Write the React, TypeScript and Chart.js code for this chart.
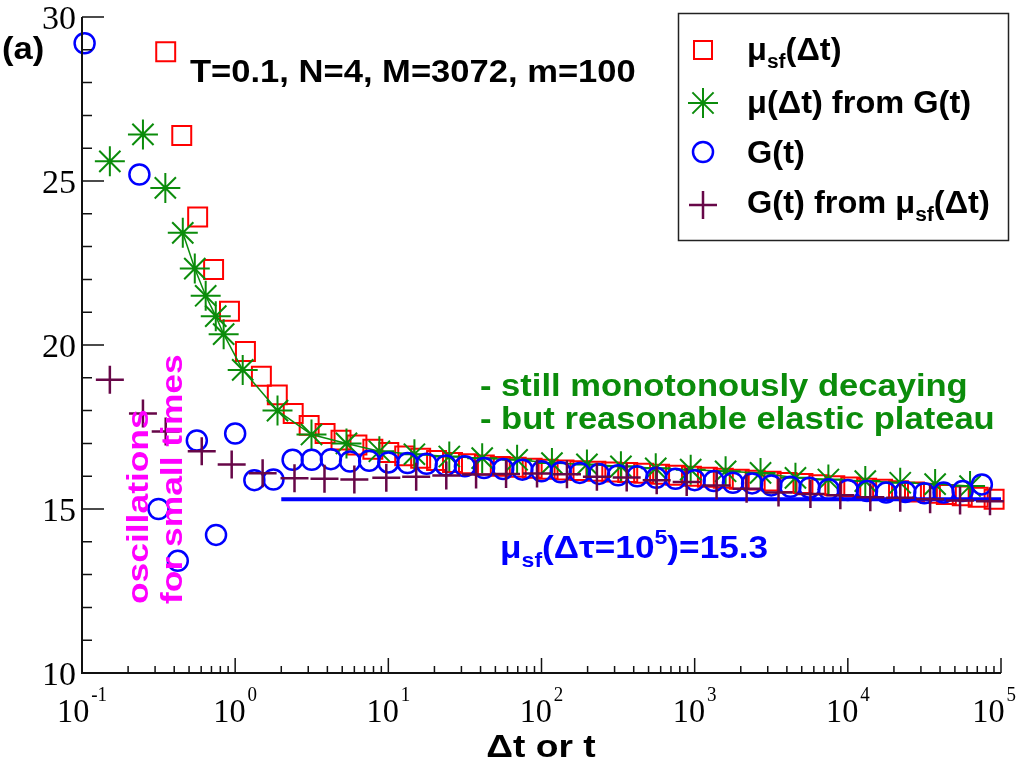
import React, { useEffect, useRef } from "react";
import { Chart, registerables } from "chart.js";

Chart.register(...registerables);

// mu_sf(dt), red squares
const muSfT = [0.352, 0.448, 0.569, 0.723, 0.918, 1.167, 1.483, 1.884, 2.393, 3.041, 3.864, 4.909, 6.237, 7.925, 10.07, 12.79, 16.26, 20.65, 26.24, 33.34, 42.36, 53.83, 68.39, 86.9, 110.4, 140.3, 178.2, 226.5, 287.7, 365.6, 464.5, 590.2, 749.9, 952.8, 1211, 1538, 1954, 2483, 3155, 4009, 5093, 6471, 8222, 10447, 13274, 16866, 21429, 27227, 34594, 43954, 55847, 70958, 90157];
const muSfVal = [28.94, 26.39, 23.9, 22.3, 21.03, 19.8, 19.05, 18.48, 17.91, 17.55, 17.3, 17.1, 16.95, 16.82, 16.72, 16.62, 16.55, 16.48, 16.42, 16.38, 16.34, 16.3, 16.27, 16.24, 16.21, 16.19, 16.17, 16.15, 16.13, 16.11, 16.09, 16.06, 16.03, 16.0, 15.97, 15.94, 15.91, 15.88, 15.85, 15.81, 15.78, 15.74, 15.71, 15.67, 15.63, 15.6, 15.56, 15.52, 15.48, 15.44, 15.4, 15.36, 15.3];

// mu(dt) from G(t), green stars
const muGT = [0.152, 0.25, 0.35, 0.455, 0.545, 0.642, 0.747, 0.841, 1.12, 1.89, 3.15, 5.33, 8.74, 14.8, 25.0, 41.0, 69.3, 117, 198, 330, 557, 942, 1592, 2692, 4550, 7464, 13000, 21980, 37150, 62800];
const muGVal = [25.6, 26.42, 24.79, 23.42, 22.33, 21.5, 20.88, 20.33, 19.24, 18.0, 17.27, 17.0, 16.76, 16.67, 16.6, 16.55, 16.5, 16.4, 16.36, 16.3, 16.24, 16.2, 16.15, 16.1, 15.95, 15.9, 15.85, 15.8, 15.76, 15.7];

// G(t), blue circles
const gT = [0.104, 0.237, 0.316, 0.422, 0.562, 0.75, 1.0, 1.334, 1.778, 2.371, 3.162, 4.217, 5.623, 7.499, 10.0, 13.34, 17.78, 23.71, 31.62, 42.17, 56.23, 74.99, 100, 133.4, 177.8, 237.1, 316.2, 421.7, 562.3, 749.9, 1000, 1334, 1778, 2371, 3162, 4217, 5623, 7499, 10000, 13335, 17783, 23714, 31623, 42170, 56234, 74989];
const gVal = [29.2, 25.2, 15.0, 13.42, 17.09, 14.21, 17.3, 15.88, 15.9, 16.5, 16.5, 16.52, 16.45, 16.47, 16.42, 16.4, 16.38, 16.33, 16.3, 16.25, 16.22, 16.2, 16.15, 16.12, 16.1, 16.07, 16.03, 16.0, 15.95, 15.92, 15.88, 15.85, 15.8, 15.78, 15.72, 15.68, 15.65, 15.6, 15.58, 15.55, 15.5, 15.52, 15.48, 15.5, 15.55, 15.75];

// G(t) from mu_sf(dt), maroon pluses
const gMuT = [0.152, 0.25, 0.352, 0.605, 0.949, 1.511, 2.44, 3.83, 6.0, 9.7, 15.2, 23.9, 37.4, 58.7, 93.5, 146.6, 230, 360, 565, 887, 1390, 2183, 3527, 5698, 8933, 14019, 21980, 34450, 54040, 84750];
const gMuVal = [18.94, 17.91, 17.36, 16.76, 16.36, 16.09, 15.94, 15.92, 15.9, 15.95, 15.98, 16.02, 16.05, 16.07, 16.08, 16.06, 15.98, 15.96, 15.88, 15.82, 15.72, 15.62, 15.5, 15.46, 15.42, 15.36, 15.34, 15.3, 15.26, 15.24];

// plateau line mu_sf(dtau=1e5)
const plateauT = [2, 100000];
const plateauVal = [15.3, 15.3];

// axis ticks
const xDecades = [-1, 0, 1, 2, 3, 4, 5];
const yMajor = [10, 15, 20, 25, 30];
const yMinor = [11, 12, 13, 14, 16, 17, 18, 19, 21, 22, 23, 24, 26, 27, 28, 29];

const RED = "#ff0000";
const GREEN = "#0b8c0b";
const BLUE = "#0000ff";
const MAROON = "rgb(103,7,72)";
const MAGENTA = "#ff00ff";
const SANS = '"Liberation Sans", Arial, sans-serif';
const SERIF = '"Liberation Serif", "Times New Roman", serif';

type Seg = { t: string; d?: number; s?: number; gap?: number };

function rich(ctx: CanvasRenderingContext2D, segs: Seg[], x: number, y: number, size: number, color: string, sx = 1, align = "left", rot = 0, fam = SANS, weight = "bold", maxRight = Infinity) {
    ctx.save();
    const fnt = (g: Seg) => `${weight} ${Math.round(size * (g.s ?? 1))}px ${fam}`;
    let total = 0;
    for (const g of segs) {
        ctx.font = fnt(g);
        total += ctx.measureText(g.t).width + (g.gap ?? 0);
    }
    let cx = align === "center" ? -total / 2 : 0;
    // keep a centred label inside the canvas
    if (!rot && x + (cx + total) * sx > maxRight) cx = (maxRight - x) / sx - total;
    ctx.translate(x, y);
    if (rot) ctx.rotate(rot);
    ctx.scale(sx, 1);
    ctx.fillStyle = color;
    ctx.textBaseline = "alphabetic";
    ctx.textAlign = "left";
    for (const g of segs) {
        ctx.font = fnt(g);
        cx += g.gap ?? 0;
        ctx.fillText(g.t, cx, g.d ?? 0);
        cx += ctx.measureText(g.t).width;
    }
    ctx.restore();
}

function marker(ctx: CanvasRenderingContext2D, kind: string, x: number, y: number) {
    ctx.save();
    ctx.beginPath();
    if (kind === "rect") {
        ctx.strokeStyle = RED; ctx.lineWidth = 2;
        ctx.rect(x - 9, y - 9, 18, 18);
    } else if (kind === "star") {
        ctx.strokeStyle = GREEN; ctx.lineWidth = 2;
        for (let i = 0; i < 4; i++) {
            const a = (i * Math.PI) / 4;
            ctx.moveTo(x - 15 * Math.cos(a), y - 15 * Math.sin(a));
            ctx.lineTo(x + 15 * Math.cos(a), y + 15 * Math.sin(a));
        }
    } else if (kind === "circle") {
        ctx.strokeStyle = BLUE; ctx.lineWidth = 2.5;
        ctx.arc(x, y, 10, 0, Math.PI * 2);
    } else {
        ctx.strokeStyle = MAROON; ctx.lineWidth = 2.5;
        ctx.moveTo(x - 14, y); ctx.lineTo(x + 14, y);
        ctx.moveTo(x, y - 14); ctx.lineTo(x, y + 14);
    }
    ctx.stroke();
    ctx.restore();
}

const decorPlugin = {
    id: "decor",
    afterDatasetsDraw(chart: any) {
        const ctx: CanvasRenderingContext2D = chart.ctx;
        const xs = chart.scales.x;
        const ys = chart.scales.y;
        const { left, right, top, bottom } = chart.chartArea;

        // axes
        ctx.save();
        ctx.strokeStyle = "#111";
        ctx.lineWidth = 2;
        ctx.beginPath();
        ctx.moveTo(left, top);
        ctx.lineTo(left, bottom);
        ctx.lineTo(right, bottom);
        ctx.stroke();

        // ticks point into the plot
        ctx.lineWidth = 1.5;
        ctx.beginPath();
        xDecades.forEach((e) => {
            const px = xs.getPixelForValue(Math.pow(10, e));
            ctx.moveTo(px, bottom);
            ctx.lineTo(px, bottom - 15);
            if (e < 5) {
                for (let m = 2; m <= 9; m++) {
                    const p = xs.getPixelForValue(m * Math.pow(10, e));
                    ctx.moveTo(p, bottom);
                    ctx.lineTo(p, bottom - 7);
                }
            }
        });
        yMajor.forEach((v) => {
            const py = ys.getPixelForValue(v);
            ctx.moveTo(left, py);
            ctx.lineTo(left + 22, py);
        });
        yMinor.forEach((v) => {
            const py = ys.getPixelForValue(v);
            ctx.moveTo(left, py);
            ctx.lineTo(left + 10, py);
        });
        ctx.stroke();
        ctx.restore();

        // tick labels
        xDecades.forEach((e) => {
            const px = xs.getPixelForValue(Math.pow(10, e));
            rich(ctx, [{ t: "10" }, { t: String(e), d: -21, s: 0.6, gap: 2 }], px, 722, 34, "#000", 0.95, "center", 0, SERIF, "normal", 1016);
        });
        yMajor.forEach((v) => {
            const py = ys.getPixelForValue(v);
            ctx.save();
            ctx.font = `normal 34px ${SERIF}`;
            ctx.fillStyle = "#000";
            ctx.textAlign = "right";
            ctx.textBaseline = "alphabetic";
            ctx.fillText(String(v), 76, py + 12);
            ctx.restore();
        });

        // axis title
        rich(ctx, [{ t: "\u0394t or t" }], 541, 757, 31, "#000", 1.2, "center");

        // annotations
        rich(ctx, [{ t: "(a)" }], 2, 59, 32, "#000", 1.08);
        rich(ctx, [{ t: "T=0.1, N=4, M=3072, m=100" }], 190, 82, 32, "#000", 1.08);
        rich(ctx, [{ t: "- still monotonously decaying" }], 480, 396, 32, GREEN, 1.08);
        rich(ctx, [{ t: "- but reasonable elastic plateau" }], 480, 429, 32, GREEN, 1.08);
        rich(ctx, [{ t: "\u03bc" }, { t: "sf", d: 9, s: 0.65 }, { t: "(\u0394\u03c4=10" }, { t: "5", d: -14, s: 0.65 }, { t: ")=15.3" }], 500, 558, 32, BLUE, 1.1);
        rich(ctx, [{ t: "oscillations" }], 148, 604, 29, MAGENTA, 1.22, "left", -Math.PI / 2);
        rich(ctx, [{ t: "for small times" }], 182, 604, 29, MAGENTA, 1.22, "left", -Math.PI / 2);

        // legend
        ctx.save();
        ctx.fillStyle = "#fff";
        ctx.fillRect(678.5, 13.5, 330, 227);
        ctx.strokeStyle = "#222";
        ctx.lineWidth = 1.5;
        ctx.strokeRect(678.5, 13.5, 330, 227);
        ctx.restore();
        marker(ctx, "rect", 703, 50);
        marker(ctx, "star", 703, 103);
        marker(ctx, "circle", 703, 152);
        marker(ctx, "plus", 703, 205);
        rich(ctx, [{ t: "\u03bc" }, { t: "sf", d: 8, s: 0.65 }, { t: "(\u0394t)" }], 747, 60, 31, "#000", 1.05);
        rich(ctx, [{ t: "\u03bc(\u0394t) from G(t)" }], 747, 113, 31, "#000", 1.05);
        rich(ctx, [{ t: "G(t)" }], 747, 163, 31, "#000", 1.05);
        rich(ctx, [{ t: "G(t) from \u03bc" }, { t: "sf", d: 8, s: 0.65 }, { t: "(\u0394t)" }], 747, 213, 31, "#000", 1.05);
    },
};

const pts = (xs: number[], ys: number[]) => xs.map((x, i) => ({ x, y: ys[i] }));

export default function App() {
    const chartRef = useRef<HTMLCanvasElement>(null);

    useEffect(() => {
        const config: any = {
            type: "scatter",
            data: {
                datasets: [
                    {
                        label: "G(t) from mu_sf",
                        data: pts(gMuT, gMuVal),
                        pointStyle: "cross",
                        pointRadius: 14,
                        pointBorderWidth: 2.5,
                        borderColor: MAROON,
                        backgroundColor: "transparent",
                        showLine: false,
                        clip: false,
                        order: 0,
                    },
                    {
                        label: "plateau",
                        data: pts(plateauT, plateauVal),
                        showLine: true,
                        pointRadius: 0,
                        borderColor: BLUE,
                        borderWidth: 4,
                        order: 1,
                    },
                    {
                        label: "G(t)",
                        data: pts(gT, gVal),
                        pointStyle: "circle",
                        pointRadius: 10,
                        pointBorderWidth: 2.5,
                        borderColor: BLUE,
                        backgroundColor: "transparent",
                        showLine: false,
                        clip: false,
                        order: 2,
                    },
                    {
                        label: "mu from G",
                        data: pts(muGT, muGVal),
                        pointStyle: "star",
                        pointRadius: 15,
                        pointBorderWidth: 2,
                        borderColor: GREEN,
                        borderWidth: 1.5,
                        backgroundColor: "transparent",
                        showLine: true,
                        segment: {
                            borderColor: (c: any) => (c.p0DataIndex < 3 ? "transparent" : GREEN),
                        },
                        clip: false,
                        order: 3,
                    },
                    {
                        label: "mu_sf",
                        data: pts(muSfT, muSfVal),
                        pointStyle: "rect",
                        pointRadius: 13.4,
                        pointBorderWidth: 2,
                        borderColor: RED,
                        backgroundColor: "transparent",
                        showLine: false,
                        clip: false,
                        order: 4,
                    },
                ],
            },
            options: {
                animation: false,
                responsive: true,
                maintainAspectRatio: false,
                layout: { padding: { left: 82, right: 15, top: 13, bottom: 88 } },
                plugins: {
                    legend: { display: false },
                    tooltip: { enabled: false },
                },
                scales: {
                    x: { type: "logarithmic", min: 0.1, max: 100000, display: false },
                    y: { type: "linear", min: 10, max: 30, display: false },
                },
            },
            plugins: [decorPlugin],
        };

        const chartInstance = new Chart(chartRef.current as HTMLCanvasElement, config);

        return () => chartInstance.destroy();
    }, []);

    return (
        <div style={{ position: "absolute", left: 0, top: 0, width: 1018, height: 761, background: "#fff" }}>
            <canvas ref={chartRef}></canvas>
        </div>
    );
}
